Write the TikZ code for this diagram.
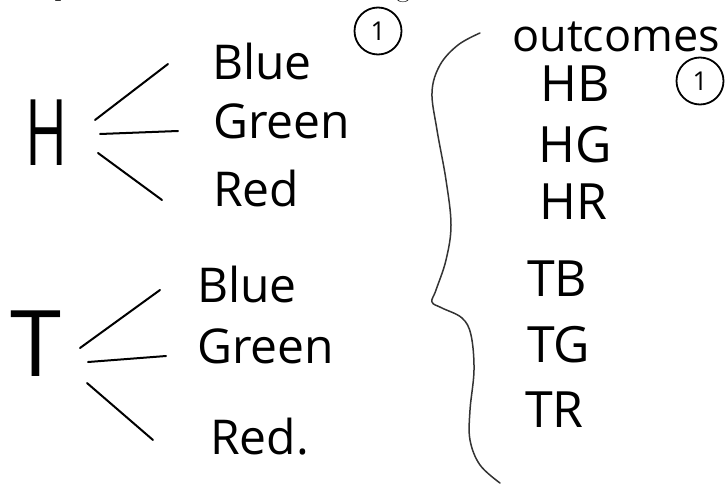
\documentclass[tikz,border=0pt]{standalone}
\usepackage{fontspec}
\newfontfamily\hand{Open Sans}
\usetikzlibrary{calc}

\begin{document}
\begin{tikzpicture}[x=1pt, y=-1pt,
  root/.style={font=\hand\fontsize{92}{92}\selectfont, inner sep=0pt},
  lbl/.style={font=\hand\fontsize{48}{48}\selectfont, inner sep=0pt, anchor=west},
  pair/.style={font=\hand\fontsize{50}{50}\selectfont, inner sep=0pt, anchor=west},
  brch/.style={line width=2pt, line cap=round},
  ring/.style={draw, circle, line width=1.8pt, inner sep=0pt, minimum size=47pt, font=\hand\fontsize{26}{26}\selectfont},
  print/.style={font=\fontsize{30}{30}\selectfont, inner sep=0pt}]
\useasboundingbox (0,0) rectangle (727,484);
% cut-off printed question line
\node[print, anchor=base] (qp) at (62,-4) {p};
\node[print, anchor=base east] (qline) at (597,-3) {tree diagram to show all};
% first toss: H
\node[root] (h) at (47,133) {\scalebox{0.62}[1]{H}};
\node[lbl] (hB) at (212,62) {Blue};
\node[lbl] (hG) at (213,121) {Green};
\node[lbl] (hR) at (213,188) {Red};
% first toss: T
\node[root] (t) at (36,344) {T};
\node[lbl] (tB) at (197,284) {Blue};
\node[lbl] (tG) at (197,346) {Green};
\node[lbl] (tR) at (210,437) {Red.};
\foreach \r/\c/\sx/\sy/\ex/\ey in {h/hB/48/-13/-44/2, h/hG/53/1/-35/10, h/hR/51/20/-51/12,
    t/tB/44/4/-37/6, t/tG/52/18/-31/10, t/tR/51/39/-57/3}{
  \draw[brch] ([shift={(\sx,\sy)}]\r.center) -- ([shift={(\ex,\ey)}]\c.west);}
\node[ring] (m1) at (378,31) {1};
% outcomes
\node[font=\hand\fontsize{45}{45}\selectfont, inner sep=0pt, anchor=west] (oc) at (512,37) {outcomes};
\node[pair] (oHB) at (540,84) {HB};
\node[pair] (oHG) at (538,145) {HG};
\node[pair] (oHR) at (539,202) {HR};
\node[pair] (oTB) at (527,279) {TB};
\node[pair] (oTG) at (527,345) {TG};
\node[pair] (oTR) at (525,410) {TR};
\node[ring] (m2) at (700,81) {1};
\draw[line width=1.5pt, black!80, line cap=round] plot[smooth, tension=0.6] coordinates {(480,33) (458,45) (440,65) (432,92) (437,130) (446,180) (451,225) (446,260) (436,290) (432,302) (442,308) (462,318) (471,335) (474,370) (470,410) (470,440) (480,465) (500,483)};
\end{tikzpicture}
\end{document}
